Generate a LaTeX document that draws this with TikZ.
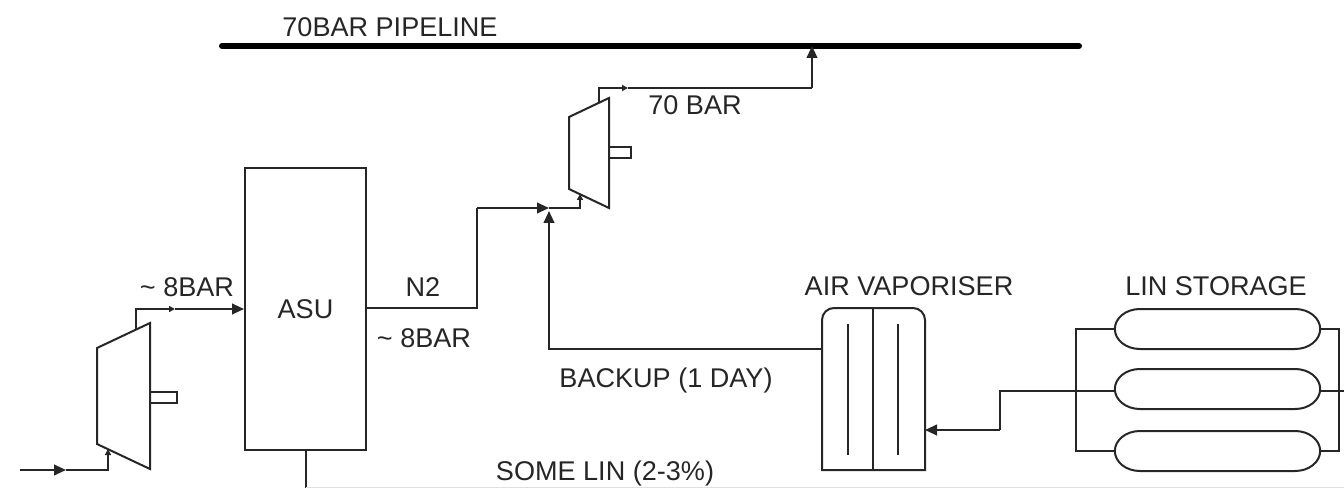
\documentclass[tikz,border=0pt]{standalone}
\usepackage{fontspec}
\setmainfont{Liberation Sans}
\usetikzlibrary{arrows.meta, calc, positioning}

\begin{document}
\begin{tikzpicture}[>={Stealth[length=9pt,width=8pt,inset=0pt]},
  x=.75pt, y=-.75pt,
  line width=1.5pt,
  color=black!85,
  every node/.style={font=\fontsize{20.3pt}{22pt}\selectfont, inner sep=0pt},
  tank/.style={minimum width=154pt, minimum height=30pt, outer sep=0pt},
  unit/.style={draw, minimum width=90.75pt, minimum height=211.5pt},
  tiny/.style={-{Stealth[length=4.5pt,width=4.5pt,inset=0pt]}}
 ]
 \useasboundingbox (0,0) rectangle (1344,488);

 % pipeline
 \coordinate (PL) at (222,46);
 \coordinate (PR) at (1079,46);
 \draw [line width=4.5pt, line cap=round, black] (PL) -- (PR);
 \node at (390,27) (pipe) {70BAR PIPELINE};

 % air compressor
 \draw (97,348) -- (150,323) -- (150,469) -- (97,444) -- cycle;
 \draw (150,392) -- (177,392) -- (177,403) -- (150,403);
 \coordinate (Ain) at (20,470);
 \coordinate (Amid) at (66,470);
 \coordinate (Ac) at (108,470);
 \coordinate (Ab) at (108,449);
 \coordinate (At) at (136,329);
 \coordinate (Au) at (136,309);
 \coordinate (Aout) at (175,309);
 \draw [->] (Ain) -- (Amid);
 \draw [tiny] (Amid) -- (Ac) -- (Ab);

 % ASU
 \node [unit] at (305.5,309) (ASU) {ASU};
 \node at (187,287) (p1) {\textasciitilde{} 8BAR};
 \node at (424,338) (p2) {\textasciitilde{} 8BAR};
 \node at (423,287) (N2) {N2};
 \draw [tiny] (At) -- (Au) -- (Aout);
 \draw [->] (Aout) -- (Aout -| ASU.west);

 % nitrogen compressor
 \draw (569,117) -- (609,98) -- (609,208) -- (569,189) -- cycle;
 \draw (609,147) -- (631,147) -- (631,158) -- (609,158);
 \coordinate (Nj) at (549,208);
 \coordinate (Nc) at (580,208);
 \coordinate (Nb) at (580,194);
 \coordinate (Nt) at (599,103);
 \coordinate (Nu) at (599,88);
 \coordinate (Nm) at (628,88);
 \coordinate (Nr) at (812,88);
 \coordinate (Nk) at (477,208);
 \draw (ASU.east |- 0,308) -- (477,308) -- (Nk);
 \draw [->] (Nk) -- (Nj);
 \draw [tiny] (Nj) -- (Nc) -- (Nb);
 \draw [tiny] (Nt) -- (Nu) -- (Nm);
 \draw (Nm) -- (Nr);
 \draw [->] (Nr) -- (Nr |- PL);
 \node at (695,105) (p3) {70 BAR};

 % vaporiser
 \node [minimum width=77.25pt, minimum height=121.5pt, outer sep=0pt] at (873.5,389) (V) {};
 \draw (V.south west) [rounded corners=9pt] -- (V.north west) -- (V.north east) [sharp corners] -- (V.south east) -- cycle;
 \draw (873,308) -- (873,470);
 \foreach \x in {848,898} {
  \draw (\x,324) -- (\x,455);
 }
 \node at (909,286) (Vl) {AIR VAPORISER};
 \node at (666,380) (B) {BACKUP (1 DAY)};
 \coordinate (Bc) at (549,349);
 \draw [->] (V.west |- Bc) -- (Bc) -- (549,211);

 % storage
 \foreach \n/\y in {1/329, 2/389, 3/451} {
  \node [tank] at (1217.5,\y) (T\n) {};
  \draw (T\n.west) arc [start angle=180, end angle=90, x radius=18.75pt, y radius=15pt]
   -- ($(T\n.north east)+(-25,0)$) arc [start angle=90, end angle=-90, x radius=18.75pt, y radius=15pt]
   -- ($(T\n.south west)+(25,0)$) arc [start angle=-90, end angle=-180, x radius=18.75pt, y radius=15pt];
 }
 \node at (1216,286) (Tl) {LIN STORAGE};
 \coordinate (Hl) at (1076,391);
 \coordinate (Hr) at (1339,391);
 \draw (T1.west) -- (T1.west -| Hl) -- (T3.west -| Hl) -- (T3.west);
 \draw (T1.east) -- (T1.east -| Hr) -- (T3.east -| Hr) -- (T3.east);
 \draw (T2.east |- Hl) -- (1344,391);
 \draw (T2.west |- Hl) -- (1000,391) -- (1000,430);
 \draw [->] (1000,430) -- (V.east |- 0,430);

 % LIN out
 \draw (ASU.south) -- (ASU.south |- 0,488);
 \draw [black!12, line width=1pt] (306,487.5) -- (1344,487.5);
 \node at (605,473) (L) {SOME LIN (2-3\%)};
\end{tikzpicture}
\end{document}
